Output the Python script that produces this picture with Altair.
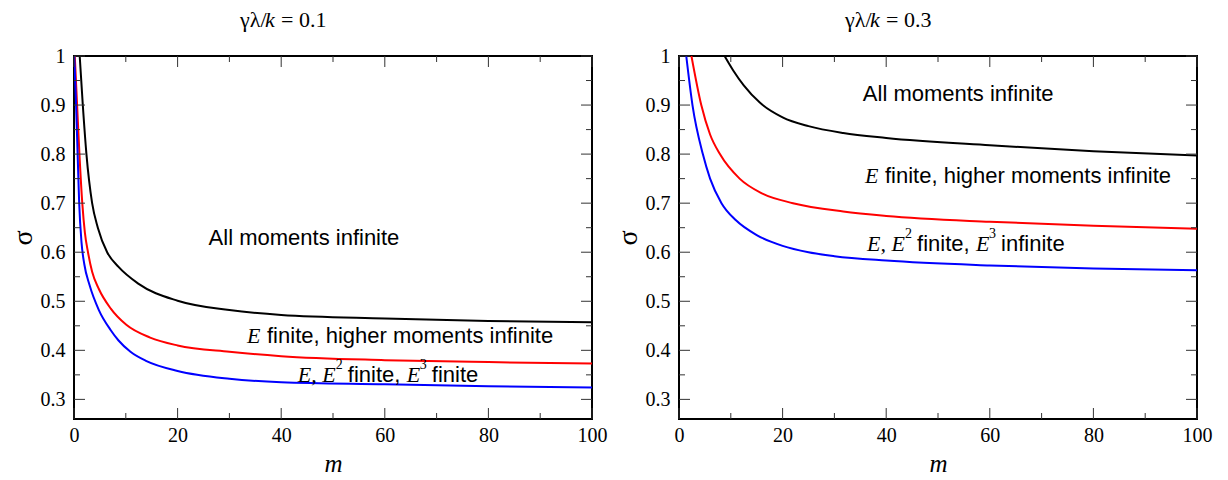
import altair as alt
import pandas as pd

# ---------------- data ----------------
# Left panel: gamma*lambda/k = 0.1
m_black_L = [1.1, 1.7, 2.4, 3.5, 4.6, 6.4, 8.6, 12.4, 20, 30, 40, 60, 80, 100]
s_black_L = [1.0, 0.9, 0.8, 0.7, 0.65, 0.6, 0.57, 0.536, 0.501, 0.482, 0.472, 0.465, 0.46, 0.457]
m_red_L = [0.15, 0.6, 1.05, 1.6, 2.1, 2.7, 3.5, 4.8, 7.1, 10.1, 14.7, 20, 30, 40, 60, 80, 100]
s_red_L = [1.0, 0.9, 0.8, 0.7, 0.64, 0.6, 0.56, 0.525, 0.485, 0.452, 0.426, 0.41, 0.397, 0.388, 0.38, 0.376, 0.373]
m_blue_L = [0.05, 0.4, 0.7, 1.0, 1.45, 2.0, 3.0, 4.8, 7.1, 8.6, 10.9, 14, 20, 30, 40, 60, 80, 100]
s_blue_L = [1.0, 0.9, 0.8, 0.7, 0.62, 0.575, 0.533, 0.482, 0.441, 0.42, 0.397, 0.378, 0.358, 0.342, 0.335, 0.331, 0.327, 0.324]

# Right panel: gamma*lambda/k = 0.3
m_black_R = [8.8, 10.5, 12.5, 15.6, 20, 25, 31.7, 40, 60, 80, 100]
s_black_R = [1.0, 0.97, 0.94, 0.905, 0.875, 0.857, 0.843, 0.833, 0.818, 0.806, 0.797]
m_red_R = [2.4, 4.3, 6.0, 7.9, 11.7, 16, 22, 31.7, 40, 60, 80, 100]
s_red_R = [1.0, 0.9, 0.84, 0.8, 0.75, 0.72, 0.70, 0.683, 0.674, 0.662, 0.654, 0.648]
m_blue_R = [1.4, 2.6, 4.6, 6.0, 8.2, 11, 15, 20, 25, 30, 40, 60, 80, 100]
s_blue_R = [1.0, 0.9, 0.8, 0.75, 0.7, 0.665, 0.635, 0.613, 0.6, 0.592, 0.583, 0.573, 0.567, 0.563]

curve_names = ["black", "red", "blue"]
curve_colors = ["#000000", "#ff0000", "#0000ff"]

x_major = [0, 20, 40, 60, 80, 100]
x_minor = [10, 30, 50, 70, 90]
y_major = [0.3, 0.4, 0.5, 0.6, 0.7, 0.8, 0.9, 1.0]
y_minor = [0.35, 0.45, 0.55, 0.65, 0.75, 0.85, 0.95]

titles = ["0.1", "0.3"]

W, H = 518, 363
XDOM = [0, 100]
YDOM = [0.26, 1.0]
SERIF = "Liberation Serif"
SANS = "Liberation Sans"


def xs():
    return alt.Scale(domain=XDOM, nice=False, zero=False)


def ys():
    return alt.Scale(domain=YDOM, nice=False, zero=False)


XAX = alt.Axis(values=x_major, ticks=False, domain=False, grid=False,
               labelFont=SERIF, labelFontSize=20, labelColor="black",
               labelPadding=6, labelFlush=False,
               title="m", titleFont=SERIF, titleFontSize=25,
               titleFontStyle="italic", titleFontWeight="normal",
               titleColor="black", titlePadding=6)
YAX = alt.Axis(values=y_major, ticks=False, domain=False, grid=False,
               labelFont=SERIF, labelFontSize=20, labelColor="black",
               labelPadding=9, labelFlush=False,
               labelExpr="datum.value == 1 ? '1' : format(datum.value, '.1f')",
               title="σ", titleFont=SERIF, titleFontSize=28,
               titleFontWeight="normal", titleColor="black", titlePadding=3)


def X(field):
    return alt.X(field, scale=xs(), axis=XAX)


def Y(field):
    return alt.Y(field, scale=ys(), axis=YAX)


def curves_df(ms, ss):
    rows = []
    for name, m, s in zip(curve_names, ms, ss):
        for a, b in zip(m, s):
            rows.append({"curve": name, "m": a, "s": b})
    return pd.DataFrame(rows)


def tick_layers():
    layers = []
    for vals, ln in ((x_major, 11), (x_minor, 6)):
        d = pd.DataFrame({"m": vals})
        base = alt.Chart(d).mark_rule(color="#333333", strokeWidth=1)
        layers.append(base.encode(x=X("m:Q"), y=alt.value(H), y2=alt.value(H - ln)))
        layers.append(base.encode(x=X("m:Q"), y=alt.value(0), y2=alt.value(ln)))
    for vals, ln in ((y_major, 11), (y_minor, 6)):
        d = pd.DataFrame({"s": vals})
        base = alt.Chart(d).mark_rule(color="#333333", strokeWidth=1)
        layers.append(base.encode(y=Y("s:Q"), x=alt.value(0), x2=alt.value(ln)))
        layers.append(base.encode(y=Y("s:Q"), x=alt.value(W), x2=alt.value(W - ln)))
    return layers


def text_piece(x, y, text, dx=0, dy=0, font=SANS, size=22, style="normal", align="left"):
    d = pd.DataFrame({"m": [x], "s": [y], "t": [text]})
    return alt.Chart(d).mark_text(
        align=align, baseline="middle", font=font, fontSize=size, fontStyle=style,
        dx=dx, dy=dy, color="black"
    ).encode(x=X("m:Q"), y=Y("s:Q"), text="t:N")


def pixel_text(px, py, text, font=SERIF, size=22, style="normal"):
    d = pd.DataFrame({"t": [text]})
    return alt.Chart(d).mark_text(
        align="left", baseline="middle", font=font, fontSize=size, fontStyle=style, color="black"
    ).encode(x=alt.value(px), y=alt.value(py), text="t:N")


def title_layers(val):
    x0 = 166
    ty = -36
    return [
        pixel_text(x0, ty, "γλ/"),
        pixel_text(x0 + 25, ty, "k", style="italic"),
        pixel_text(x0 + 41, ty, "= " + val),
    ]


def moments_label(x, y, third_word):
    return [
        text_piece(x, y, "E, E", font=SERIF, size=22, style="italic"),
        text_piece(x, y, "2", dx=38, dy=-10, font=SERIF, size=14),
        text_piece(x, y, "finite,", dx=50),
        text_piece(x, y, "E", dx=109, font=SERIF, size=22, style="italic"),
        text_piece(x, y, "3", dx=122, dy=-10, font=SERIF, size=14),
        text_piece(x, y, third_word, dx=134),
    ]


def efinite_label(x, y):
    return [
        text_piece(x, y, "E", font=SERIF, size=22, style="italic"),
        text_piece(x, y, "finite, higher moments infinite", dx=20),
    ]


def panel(df, val, annotations):
    lines = alt.Chart(df).mark_line(strokeWidth=2, clip=True, interpolate="monotone").encode(
        x=X("m:Q"),
        y=Y("s:Q"),
        color=alt.Color("curve:N", scale=alt.Scale(domain=curve_names, range=curve_colors), legend=None),
        detail="curve:N",
    )
    return alt.layer(lines, *tick_layers(), *annotations, *title_layers(val)).properties(width=W, height=H)


left = panel(
    curves_df([m_black_L, m_red_L, m_blue_L], [s_black_L, s_red_L, s_blue_L]),
    titles[0],
    [text_piece(44.4, 0.629, "All moments infinite", align="center")]
    + efinite_label(33.4, 0.429)
    + moments_label(43.2, 0.350, "finite"),
)
right = panel(
    curves_df([m_black_R, m_red_R, m_blue_R], [s_black_R, s_red_R, s_blue_R]),
    titles[1],
    [text_piece(53.9, 0.923, "All moments infinite", align="center")]
    + efinite_label(35.9, 0.755)
    + moments_label(36.3, 0.617, "infinite"),
)

chart = alt.hconcat(left, right, spacing=5).configure_view(
    stroke="black", strokeWidth=2
).properties(padding={"left": 0, "top": 0, "right": 5, "bottom": 5}, background="white")

chart.save("out.html", embed_options={"renderer": "svg", "actions": False})
